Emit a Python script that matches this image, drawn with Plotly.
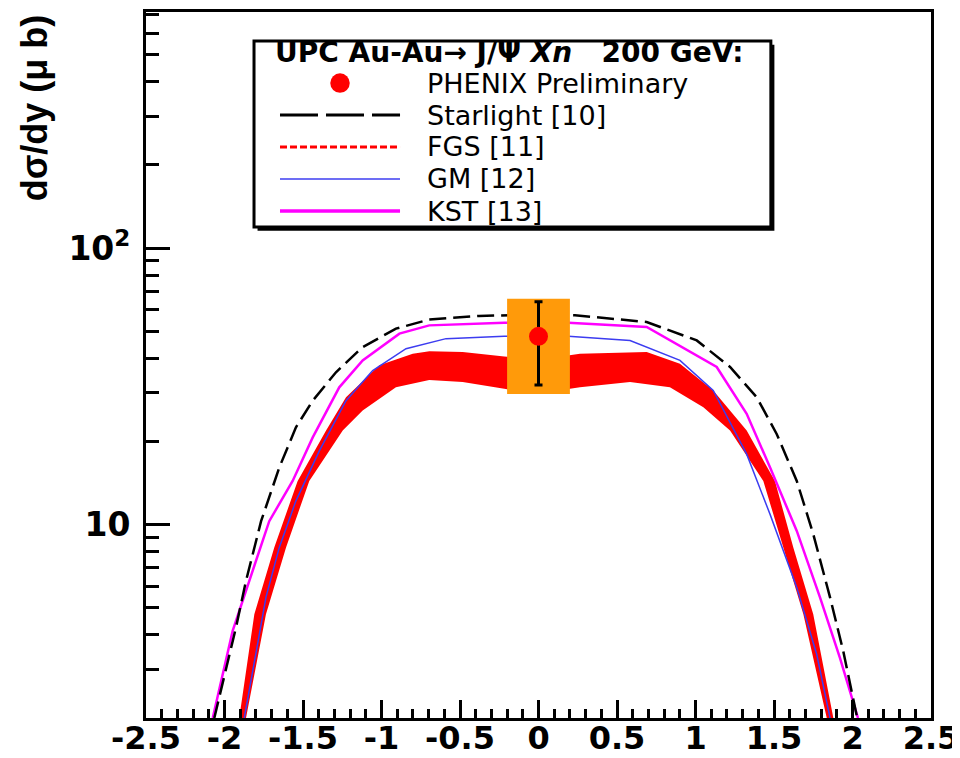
import plotly.graph_objects as go

# ---------------- data ----------------
starlight_x = [-2.065, -1.927, -1.863, -1.767, -1.651, -1.545, -1.438, -1.29, -1.12, -0.908, -0.697,
               -0.379, 0.0, 0.232, 0.689, 1.008, 1.22, 1.39, 1.517, 1.645, 1.75, 1.857, 1.941, 2.03]
starlight_y = [2, 4.25, 6.27, 10.3, 16.1, 22.5, 28.1, 35.6, 43.9, 51.2, 55.2,
               56.9, 57.6, 57.2, 54.1, 46.4, 37.2, 28.9, 21.3, 14.4, 9.25, 5.46, 3.49, 2]

kst_x = [-2.075, -1.948, -1.842, -1.715, -1.566, -1.438, -1.269, -1.12, -0.886, -0.696, -0.218,
         0.19, 0.689, 1.135, 1.326, 1.475, 1.645, 1.793, 1.92, 2.035]
kst_y = [2, 4.13, 6.27, 10.3, 14.4, 20.7, 31.4, 39.3, 49.1, 52.6, 53.8,
         53.8, 51.9, 37.2, 25.2, 16.1, 9.5, 5.46, 3.3, 2]

gm_x = [-1.874, -1.736, -1.651, -1.545, -1.396, -1.226, -1.056, -0.844, -0.589, -0.218,
        0.19, 0.583, 0.901, 1.113, 1.326, 1.475, 1.645, 1.772, 1.857]
gm_y = [2, 5.46, 8.28, 12.2, 18.5, 28.1, 36.1, 43.3, 47.1, 48.0,
        48.0, 46.4, 39.3, 30.6, 18.0, 10.9, 5.93, 3.40, 2]

fgs_upper_x = [-1.906, -1.810, -1.683, -1.534, -1.353, -1.226, -1.014, -0.801, -0.695, -0.483, -0.218,
               0.0, 0.264, 0.689, 0.901, 1.113, 1.326, 1.506, 1.623, 1.75, 1.878]
fgs_upper_y = [2, 4.75, 8.28, 14.4, 21.9, 28.9, 37.7, 41.5, 42.4, 42.1, 40.6,
               39.5, 41.5, 42.1, 38.2, 30.6, 21.9, 14.4, 8.28, 4.75, 2]
fgs_lower_x = [-1.863, -1.736, -1.608, -1.460, -1.247, -1.12, -0.908, -0.696, -0.483, -0.218,
               0.0, 0.264, 0.583, 0.837, 1.05, 1.22, 1.432, 1.559, 1.687, 1.836]
fgs_lower_y = [2, 4.75, 8.28, 14.4, 21.9, 25.9, 31.4, 33.4, 32.8, 31.0,
               29.8, 31.4, 32.8, 31.4, 26.6, 21.9, 14.4, 8.28, 4.75, 2]

phenix_x = [0.0]
phenix_y = [48.0]
phenix_stat_lo = [32.0]
phenix_stat_hi = [64.0]
phenix_sys_lo = [29.7]
phenix_sys_hi = [65.7]
phenix_sys_halfwidth = 0.2   # horizontal half-width of the systematic box

x_tick_vals = [-2.5, -2, -1.5, -1, -0.5, 0, 0.5, 1, 1.5, 2, 2.5]
x_tick_text = ["-2.5", "-2", "-1.5", "-1", "-0.5", "0", "0.5", "1", "1.5", "2", "2.5"]
y_tick_vals = [10, 100]
y_tick_text = ["10", "10<sup>2</sup>"]
y_minor_vals = [2, 3, 4, 5, 6, 7, 8, 9, 20, 30, 40, 50, 60, 70, 80, 90, 200, 300, 400, 500, 600, 700]

legend_title = "<b>UPC Au-Au\u2192 J/\u03a8 <i>Xn</i>\u00a0\u00a0\u00a0200 GeV:</b>"
legend_labels = ["PHENIX Preliminary", "Starlight [10]", "FGS [11]", "GM [12]", "KST [13]"]

# ---------------- figure ----------------
fig = go.Figure()

# FGS band
fig.add_trace(go.Scatter(
    x=fgs_upper_x + fgs_lower_x[::-1], y=fgs_upper_y + fgs_lower_y[::-1],
    mode="lines", fill="toself", fillcolor="#ff0000", line=dict(width=0, color="#ff0000"),
    showlegend=False, hoverinfo="skip"))

# GM
fig.add_trace(go.Scatter(x=gm_x, y=gm_y, mode="lines",
                         line=dict(color="#3c3cf0", width=1.5), showlegend=False))
# KST
fig.add_trace(go.Scatter(x=kst_x, y=kst_y, mode="lines",
                         line=dict(color="#ff00ff", width=2.5), showlegend=False))
# Starlight
fig.add_trace(go.Scatter(x=starlight_x, y=starlight_y, mode="lines",
                         line=dict(color="black", width=2.5, dash="17px,7px"), showlegend=False))

# systematic box
bx, by = [], []
for xc, lo, hi in zip(phenix_x, phenix_sys_lo, phenix_sys_hi):
    bx += [xc - phenix_sys_halfwidth, xc + phenix_sys_halfwidth, xc + phenix_sys_halfwidth,
           xc - phenix_sys_halfwidth, xc - phenix_sys_halfwidth, None]
    by += [lo, lo, hi, hi, lo, None]
fig.add_trace(go.Scatter(x=bx, y=by, mode="lines", fill="toself", fillcolor="#ff9a0a",
                         line=dict(width=0, color="#ff9a0a"), showlegend=False, hoverinfo="skip"))

# PHENIX point with stat error bar
fig.add_trace(go.Scatter(
    x=phenix_x, y=phenix_y, mode="markers",
    marker=dict(color="#ff0000", size=19, symbol="circle"),
    error_y=dict(type="data", symmetric=False,
                 array=[h - v for h, v in zip(phenix_stat_hi, phenix_y)],
                 arrayminus=[v - l for v, l in zip(phenix_y, phenix_stat_lo)],
                 color="black", thickness=3, width=4),
    showlegend=False))

x_tick_font = dict(family="DejaVu Sans", size=32, color="black", weight="bold")
y_tick_font = dict(family="DejaVu Sans", size=33, color="black", weight="bold")

fig.update_xaxes(
    range=[-2.5, 2.5], tickmode="array", tickvals=x_tick_vals, ticktext=x_tick_text,
    ticks="inside", ticklen=18, tickwidth=2.5, tickcolor="black",
    minor=dict(dtick=0.1, tick0=0, ticks="inside", ticklen=9, tickwidth=2.5, tickcolor="black"),
    showline=True, linewidth=3, linecolor="black", mirror=True, showgrid=False, zeroline=False,
    tickfont=x_tick_font, automargin=False, ticklabeloverflow="allow", ticklabelstandoff=-10)

fig.update_yaxes(
    type="log", range=[0.30103, 2.8543], tickmode="array", tickvals=y_tick_vals, ticktext=y_tick_text,
    ticks="inside", ticklen=24, tickwidth=2.5, tickcolor="black",
    minor=dict(tickvals=y_minor_vals, ticks="inside", ticklen=13, tickwidth=2.5, tickcolor="black"),
    showline=True, linewidth=3, linecolor="black", mirror=True, showgrid=False, zeroline=False,
    tickfont=y_tick_font, ticklabelstandoff=6, automargin=False, ticklabeloverflow="allow")

# ---------------- hand-built legend (paper coordinates) ----------------
L_x0, L_x1, L_y0, L_y1 = 0.1376, 0.796, 0.6955, 0.959
shadow_dx, shadow_dy = 0.0045, 0.0055
shapes = [
    dict(type="rect", xref="paper", yref="paper", x0=L_x0 + shadow_dx, x1=L_x1 + shadow_dx,
         y0=L_y0 - shadow_dy, y1=L_y1 - shadow_dy, line=dict(width=0), fillcolor="black"),
    dict(type="rect", xref="paper", yref="paper", x0=L_x0, x1=L_x1, y0=L_y0, y1=L_y1,
         line=dict(width=3, color="black"), fillcolor="white"),
]
# row centres
row_y = [0.8994, 0.8541, 0.8088, 0.7635, 0.7181]
samp_x0, samp_x1 = 0.1707, 0.3236
samp_mid = (samp_x0 + samp_x1) / 2
dot_rx, dot_ry = 0.0124, 0.0138
shapes.append(dict(type="circle", xref="paper", yref="paper",
                   x0=samp_mid - dot_rx, x1=samp_mid + dot_rx,
                   y0=row_y[0] - dot_ry, y1=row_y[0] + dot_ry,
                   line=dict(width=0), fillcolor="#ff0000"))
sample_styles = [
    dict(color="black", width=3, dash="38px,8px"),
    dict(color="#ff0000", width=3, dash="7px,3px"),
    dict(color="#3c3cf0", width=1.5),
    dict(color="#ff00ff", width=3.5),
]
for yy, st in zip(row_y[1:], sample_styles):
    shapes.append(dict(type="line", xref="paper", yref="paper", x0=samp_x0, x1=samp_x1,
                       y0=yy, y1=yy, line=st))

annotations = [
    dict(text=legend_title, xref="paper", yref="paper", x=0.1618, y=0.9433,
         xanchor="left", yanchor="middle", showarrow=False,
         font=dict(family="DejaVu Sans", size=28, color="black")),
]
for yy, lab in zip(row_y, legend_labels):
    annotations.append(dict(text=lab, xref="paper", yref="paper", x=0.3554, y=yy,
                            xanchor="left", yanchor="middle", showarrow=False,
                            font=dict(family="DejaVu Sans", size=27, color="black")))

annotations.append(dict(text="<b>d\u03c3/dy (\u03bc b)</b>", xref="paper", yref="paper",
                        x=-0.1427, y=0.865, xanchor="center", yanchor="middle",
                        textangle=-90, showarrow=False,
                        font=dict(family="Liberation Sans", size=36, color="black")))

# the page body adds an 8 px offset, so the figure is 8 px smaller and margins are shifted
fig.update_layout(
    width=952, height=750,
    margin=dict(l=138, r=29, t=4, b=40),
    plot_bgcolor="white", paper_bgcolor="white",
    shapes=shapes, annotations=annotations, showlegend=False)

fig.write_html("out.html")
